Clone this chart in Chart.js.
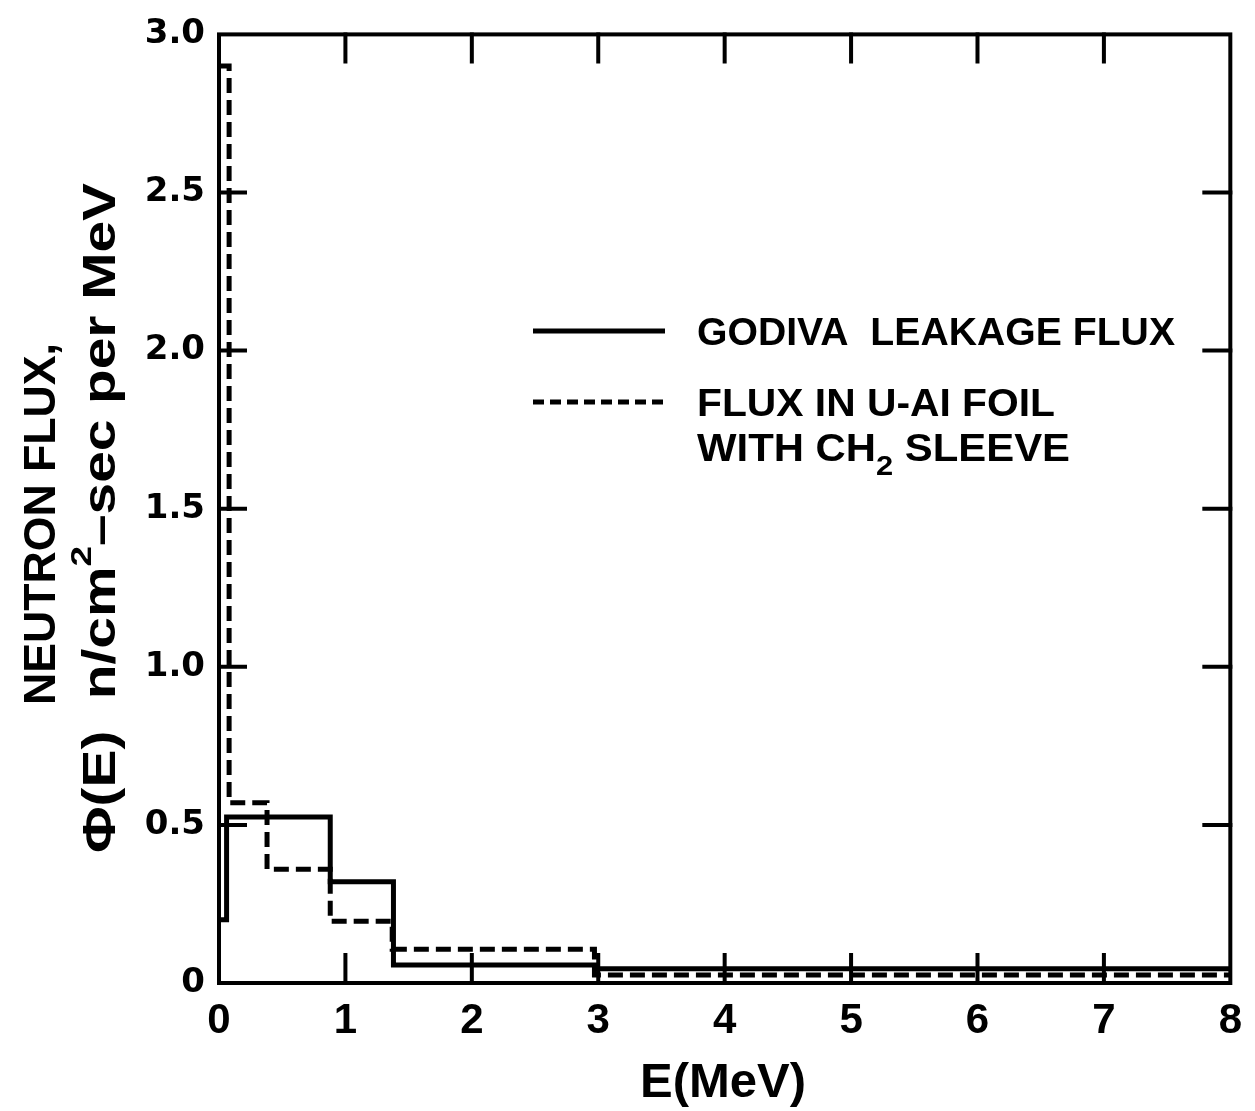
<!DOCTYPE html>
<html>
<head>
<meta charset="utf-8">
<script src="https://cdn.jsdelivr.net/npm/chart.js@4.4.1/dist/chart.umd.min.js"></script>
<style>
  body { margin: 0; background: #fff; }
</style>
</head>
<body>
<canvas id="myChart" width="1255" height="1111"></canvas>
<script>
// tick values
const energyTicks = [0, 1, 2, 3, 4, 5, 6, 7, 8];
const fluxTicks = [0, 0.5, 1.0, 1.5, 2.0, 2.5, 3.0];

// godiva leakage flux (solid) - bin edges in MeV and flux per bin
const godivaEdges = [0, 0.06, 0.88, 1.38, 2.98, 8];
const godivaFlux = [0.2, 0.525, 0.32, 0.057, 0.045];

// flux in U-Al foil with CH2 sleeve (dashed)
const foilEdges = [0, 0.08, 0.38, 0.88, 1.37, 2.97, 8];
const foilFlux = [2.9, 0.57, 0.36, 0.195, 0.107, 0.025];

const legendLabels = ['GODIVA  LEAKAGE FLUX', 'FLUX IN U-AI FOIL', 'WITH CH', '2', ' SLEEVE'];

function stepPoints(edges, vals) {
    let pts = [];
    for (let i = 0; i < vals.length; i++) {
        pts.push({x: edges[i], y: vals[i]});
    }
    pts.push({x: edges[edges.length - 1], y: vals[vals.length - 1]});
    return pts;
}

// draws a row of text pieces squeezed/stretched to a given width
function fitText(ctx, parts, x, y, width) {
    let natural = 0;
    parts.forEach(p => {
        ctx.font = p.font;
        natural += ctx.measureText(p.text).width;
    });
    ctx.save();
    ctx.translate(x, y);
    ctx.scale(width / natural, 1);
    let cx = 0;
    parts.forEach(p => {
        ctx.font = p.font;
        ctx.fillText(p.text, cx, p.dy || 0);
        cx += ctx.measureText(p.text).width;
    });
    ctx.restore();
}

const bold = size => 'bold ' + size + 'px "Liberation Sans", Arial, sans-serif';

const decorations = {
    id: 'decorations',
    afterDraw(chart) {
        const ctx = chart.ctx;
        const a = chart.chartArea;
        const xs = chart.scales.x, ys = chart.scales.y;
        ctx.save();
        ctx.strokeStyle = '#000';
        ctx.fillStyle = '#000';
        ctx.lineCap = 'square';

        // frame
        ctx.lineWidth = 4;
        ctx.strokeRect(a.left, a.top, a.right - a.left, a.bottom - a.top);

        // inward ticks
        ctx.lineWidth = 4;
        ctx.beginPath();
        energyTicks.slice(1, -1).forEach(v => {
            let px = xs.getPixelForValue(v);
            ctx.moveTo(px, a.top); ctx.lineTo(px, a.top + 27);
            ctx.moveTo(px, a.bottom); ctx.lineTo(px, a.bottom - 28);
        });
        fluxTicks.slice(1, -1).forEach(v => {
            let py = ys.getPixelForValue(v);
            ctx.moveTo(a.left, py); ctx.lineTo(a.left + 26, py);
            ctx.moveTo(a.right, py); ctx.lineTo(a.right - 26, py);
        });
        ctx.stroke();

        // legend
        ctx.lineCap = 'butt';
        ctx.lineWidth = 5;
        ctx.beginPath();
        ctx.moveTo(533, 331); ctx.lineTo(665, 331);
        ctx.stroke();
        ctx.setLineDash([11, 6]);
        ctx.beginPath();
        ctx.moveTo(533, 402); ctx.lineTo(665, 402);
        ctx.stroke();
        ctx.setLineDash([]);
        ctx.textBaseline = 'alphabetic';
        ctx.textAlign = 'left';
        fitText(ctx, [{text: legendLabels[0], font: bold(38)}], 697, 345, 478);
        fitText(ctx, [{text: legendLabels[1], font: bold(38)}], 697, 416, 358);
        fitText(ctx, [
            {text: legendLabels[2], font: bold(38)},
            {text: legendLabels[3], font: bold(28), dy: 14},
            {text: legendLabels[4], font: bold(38)}
        ], 697, 461, 373);

        // y axis title (two rotated lines)
        ctx.save();
        ctx.translate(55, 705);
        ctx.rotate(-Math.PI / 2);
        fitText(ctx, [{text: 'NEUTRON FLUX,', font: bold(45)}], 0, 0, 362);
        ctx.restore();
        ctx.save();
        ctx.translate(115, 853);
        ctx.rotate(-Math.PI / 2);
        fitText(ctx, [
            {text: '\u03A6(E)  n/cm', font: bold(46)},
            {text: '2', font: bold(30), dy: -24},
            {text: '\u2013sec per MeV', font: bold(46)}
        ], 0, 0, 670);
        ctx.restore();

        // x axis title
        fitText(ctx, [{text: 'E(MeV)', font: bold(48)}], 640, 1097, 166);
        ctx.restore();
    }
};

const ctx = document.getElementById('myChart').getContext('2d');
const myChart = new Chart(ctx, {
    type: 'line',
    data: {
        datasets: [{
            label: 'GODIVA LEAKAGE FLUX',
            data: stepPoints(godivaEdges, godivaFlux),
            stepped: 'before',
            borderColor: '#000',
            borderWidth: 5,
            pointRadius: 0,
            fill: false
        }, {
            label: 'FLUX IN U-AI FOIL WITH CH2 SLEEVE',
            data: stepPoints(foilEdges, foilFlux),
            stepped: 'before',
            borderColor: '#000',
            borderWidth: 5,
            borderDash: [15, 7],
            pointRadius: 0,
            fill: false
        }]
    },
    options: {
        responsive: false,
        animation: false,
        devicePixelRatio: 1,
        layout: {padding: {top: 28, right: 17, left: 0, bottom: 0}},
        plugins: {legend: {display: false}, tooltip: {enabled: false}},
        scales: {
            x: {
                type: 'linear', min: 0, max: 8,
                afterBuildTicks: s => { s.ticks = energyTicks.map(v => ({value: v})); },
                afterFit: s => { s.height = 128; },
                grid: {display: false, drawTicks: false},
                border: {display: false},
                ticks: {
                    color: '#000', padding: 13, maxRotation: 0, autoSkip: false,
                    font: {family: '"Liberation Sans Narrow", "Liberation Sans", Arial', weight: 'bold', size: 42}
                }
            },
            y: {
                type: 'linear', min: 0, max: 3,
                afterBuildTicks: s => { s.ticks = fluxTicks.map(v => ({value: v})); },
                afterFit: s => { s.width = 219; },
                grid: {display: false, drawTicks: false},
                border: {display: false},
                ticks: {
                    color: '#000', padding: 14, autoSkip: false,
                    callback: v => v === 0 ? '0' : v.toFixed(1),
                    font: {family: '"DejaVu Sans", sans-serif', weight: 'bold', size: 34}
                }
            }
        }
    },
    plugins: [decorations]
});
</script>
</body>
</html>
